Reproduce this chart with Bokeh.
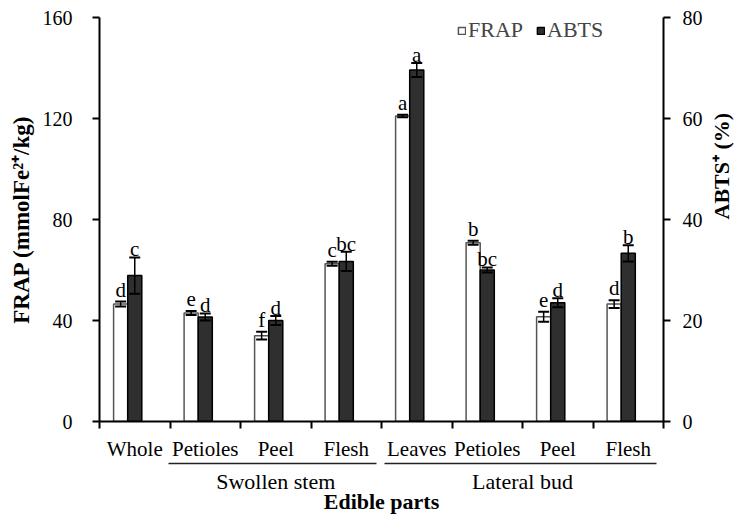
import math
from bokeh.plotting import figure
from bokeh.models import (Range1d, LinearAxis, FixedTicker, Whisker, TeeHead,
                          ColumnDataSource, Legend, LegendItem)
from bokeh.core.properties import value
from bokeh.embed import file_html
from bokeh.resources import INLINE

# ---- data ----
categories = ["Whole", "Petioles", "Peel", "Flesh", "Leaves", "Petioles", "Peel", "Flesh"]
group_names = ["Swollen stem", "Lateral bud"]
group_first = [1, 4]
group_last = [3, 7]
frap = [46.5, 43.0, 34.0, 62.5, 121.0, 70.8, 41.5, 46.5]
frap_err = [1.0, 0.8, 1.5, 0.8, 0.5, 0.8, 2.0, 1.5]
abts = [28.9, 20.7, 20.0, 31.7, 69.6, 30.0, 23.5, 33.3]
abts_err = [3.6, 0.7, 0.9, 1.9, 1.4, 0.5, 0.9, 1.6]
frap_letters = ["d", "e", "f", "c", "a", "b", "e", "d"]
abts_letters = ["c", "d", "d", "bc", "a", "bc", "d", "b"]
left_ticks = [0, 40, 80, 120, 160]
right_ticks = [0, 20, 40, 60, 80]

FONT = "Liberation Serif"
n = len(categories)

p = figure(width=756, height=523, x_range=Range1d(0, n), y_range=Range1d(0, 160),
           output_backend="svg", toolbar_location=None,
           min_border_left=99, min_border_right=93, min_border_top=17, min_border_bottom=102)
p.title = None
p.outline_line_color = None
p.xgrid.visible = False
p.ygrid.visible = False
p.extra_y_ranges = {"abts": Range1d(0, 80)}

xf = [i + 0.3 for i in range(n)]
xa = [i + 0.5 for i in range(n)]

src_f = ColumnDataSource(dict(x=xf, top=frap, upper=[v + e for v, e in zip(frap, frap_err)],
                              lower=[v - e for v, e in zip(frap, frap_err)], lab=frap_letters))
src_a = ColumnDataSource(dict(x=xa, top=abts, upper=[v + e for v, e in zip(abts, abts_err)],
                              lower=[v - e for v, e in zip(abts, abts_err)], lab=abts_letters))

r1 = p.vbar(x="x", top="top", width=0.2, source=src_f, fill_color="white",
            line_color="#555555", line_width=1.5)
r2 = p.vbar(x="x", top="top", width=0.2, source=src_a, fill_color="#2f2f2f",
            line_color="black", line_width=1.5, y_range_name="abts")

for src, rng in ((src_f, "default"), (src_a, "abts")):
    w = Whisker(source=src, base="x", upper="upper", lower="lower", line_color="black",
                line_width=1.5, level="overlay",
                upper_head=TeeHead(size=11, line_color="black", line_width=2),
                lower_head=TeeHead(size=11, line_color="black", line_width=2))
    if rng != "default":
        w.y_range_name = rng
    p.add_layout(w)

p.text(x="x", y="upper", text="lab", source=src_f, text_font=value(FONT),
       text_font_size="21px", text_align="center", text_baseline="alphabetic",
       y_offset=-12, text_color="black")
p.text(x="x", y="upper", text="lab", source=src_a, text_font=value(FONT),
       text_font_size="21px", text_align="center", text_baseline="alphabetic",
       y_offset=-8, text_color="black", y_range_name="abts")

# y axes
yl = p.yaxis[0]
yl.ticker = FixedTicker(ticks=left_ticks)
yl.axis_label = "FRAP (mmolFe²⁺/kg)"
ax_r = LinearAxis(y_range_name="abts", ticker=FixedTicker(ticks=right_ticks))
ax_r.axis_label = "ABTS⁺ (%)"
p.add_layout(ax_r, "right")
if "axis_label_orientation" in ax_r.properties():
    ax_r.axis_label_orientation = math.pi / 2

for ax, so, lso, fs in ((yl, 20, 6, "23px"), (ax_r, 12, 16, "22px")):
    ax.axis_line_width = 2
    ax.major_tick_line_width = 2
    ax.major_tick_in = 0
    ax.major_tick_out = 7
    ax.minor_tick_line_color = None
    ax.major_label_standoff = so
    ax.major_label_text_font = FONT
    ax.major_label_text_font_size = "20px"
    ax.major_label_text_color = "black"
    ax.axis_label_text_font = FONT
    ax.axis_label_text_font_style = "bold"
    ax.axis_label_text_font_size = fs
    ax.axis_label_text_color = "black"
    ax.axis_label_standoff = lso

# category axis
xc = p.xaxis[0]
xc.ticker = FixedTicker(ticks=[i + 0.5 for i in range(n)], minor_ticks=list(range(n + 1)))
xc.major_label_overrides = {i + 0.5: c for i, c in enumerate(categories)}
xc.axis_line_width = 2
xc.major_tick_line_color = None
xc.major_tick_in = 0
xc.major_tick_out = 0
xc.minor_tick_line_width = 2
xc.minor_tick_line_color = "black"
xc.minor_tick_in = 0
xc.minor_tick_out = 7
xc.major_label_standoff = 8
xc.major_label_text_font = FONT
xc.major_label_text_font_size = "21px"
xc.major_label_text_color = "black"

# group axis (line under each group, group names, axis title)
g_centers = [(a + b + 1) / 2 for a, b in zip(group_first, group_last)]
xg = LinearAxis(ticker=FixedTicker(ticks=g_centers),
                bounds=(group_first[0] - 0.02, group_last[-1] + 1 - 0.08))
xg.major_label_overrides = {c: g for c, g in zip(g_centers, group_names)}
xg.axis_line_width = 1.3
xg.axis_line_color = "#222222"
xg.axis_line_dash = "208 8 272"
xg.major_tick_line_color = None
xg.major_tick_in = 0
xg.major_tick_out = 0
xg.minor_tick_line_color = None
xg.major_label_standoff = 5
xg.major_label_text_font = FONT
xg.major_label_text_font_size = "22px"
xg.major_label_text_color = "black"
xg.axis_label = "Edible parts"
xg.axis_label_text_font = FONT
xg.axis_label_text_font_style = "bold"
xg.axis_label_text_font_size = "22px"
xg.axis_label_text_color = "black"
xg.axis_label_standoff = -8
p.add_layout(xg, "below")

legend = Legend(items=[LegendItem(label="FRAP", renderers=[r1]),
                       LegendItem(label="ABTS", renderers=[r2])],
                orientation="horizontal", location=(358, 378), glyph_width=9, glyph_height=9,
                label_text_font=FONT, label_text_font_size="22px", label_standoff=2,
                spacing=13, padding=0, margin=0, background_fill_alpha=0,
                border_line_color=None)
p.add_layout(legend)

open("out.html", "w").write(file_html(p, INLINE))
